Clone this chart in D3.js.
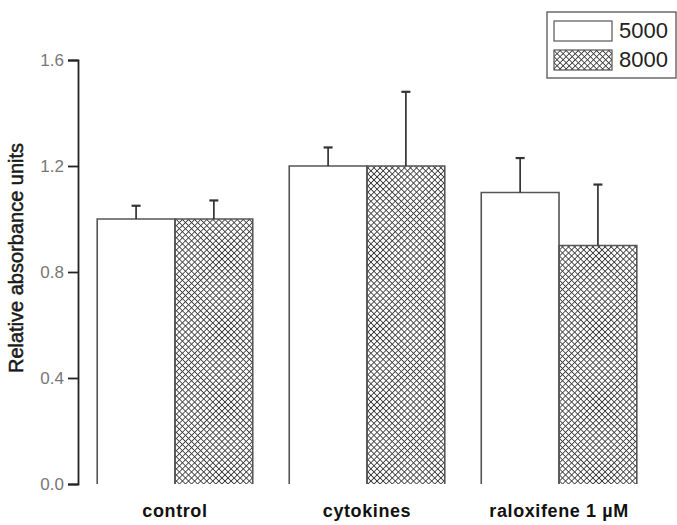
<!DOCTYPE html>
<html>
<head>
<meta charset="utf-8">
<script src="https://cdn.jsdelivr.net/npm/d3@7"></script>
<style>
  body { margin: 0; background: #fff; }
  svg { display: block; font-family: "Liberation Sans", Arial, sans-serif; }
</style>
</head>
<body>
<svg id="chart"></svg>
<script>
// data
var categories = ['control', 'cytokines', 'raloxifene 1 \u00b5M'];
var series = ['5000', '8000'];
var values5000 = [1.00, 1.20, 1.10];
var values8000 = [1.00, 1.20, 0.90];
var err5000 = [0.05, 0.07, 0.13];
var err8000 = [0.07, 0.28, 0.23];
var yTicks = [0.0, 0.4, 0.8, 1.2, 1.6];

var width = 677, height = 525;

var svg = d3.select('#chart')
  .attr('width', width)
  .attr('height', height);

// crosshatch fill
var defs = svg.append('defs');
var pat = defs.append('pattern')
  .attr('id', 'hatch')
  .attr('patternUnits', 'userSpaceOnUse')
  .attr('width', 4.3)
  .attr('height', 4.3)
  .attr('patternTransform', 'rotate(45)');
pat.append('rect').attr('width', 4.3).attr('height', 4.3).attr('fill', '#fff');
pat.append('line').attr('x1', 0).attr('y1', 0).attr('x2', 0).attr('y2', 4.3)
  .attr('stroke', '#3a3a3a').attr('stroke-width', 1.7);
pat.append('line').attr('x1', 0).attr('y1', 0).attr('x2', 4.3).attr('y2', 0)
  .attr('stroke', '#3a3a3a').attr('stroke-width', 1.7);

var fills = { '5000': '#fff', '8000': 'url(#hatch)' };

// scales
var yScale = d3.scaleLinear().domain([0, 1.6]).range([484, 60]);

var x0 = d3.scaleBand().domain(categories)
  .range([78, 656]).paddingInner(0.19).paddingOuter(0.1);

var x1 = d3.scaleBand().domain(series)
  .range([0, x0.bandwidth()]);

var rows = [];
categories.forEach(function(c, i) {
  rows.push({ cat: c, s: '5000', v: values5000[i], e: err5000[i] });
  rows.push({ cat: c, s: '8000', v: values8000[i], e: err8000[i] });
});

// y axis
var yAxis = d3.axisLeft(yScale)
  .tickValues(yTicks)
  .tickFormat(d3.format('.1f'))
  .tickSize(10)
  .tickPadding(4);

var gy = svg.append('g')
  .attr('transform', 'translate(78,0)')
  .call(yAxis);
gy.select('.domain').attr('stroke', '#222').attr('stroke-width', 1.8);
gy.selectAll('.tick line').attr('stroke', '#222').attr('stroke-width', 1.8);
gy.selectAll('.tick text')
  .attr('fill', '#777')
  .style('font-size', '17px');

svg.append('text')
  .attr('transform', 'translate(23,258) rotate(-90)')
  .attr('text-anchor', 'middle')
  .attr('fill', '#1a1a1a')
  .attr('stroke', '#1a1a1a')
  .attr('stroke-width', 0.5)
  .style('font-size', '20px')
  .text('Relative absorbance units');

// bars
var bars = svg.append('g').attr('class', 'data');

bars.selectAll('rect.bar').data(rows)
  .enter()
  .append('rect')
  .attr('class', 'bar')
  .attr('x', function(d) { return x0(d.cat) + x1(d.s); })
  .attr('y', function(d) { return yScale(d.v); })
  .attr('width', x1.bandwidth())
  .attr('height', function(d) { return yScale(0) - yScale(d.v); })
  .attr('fill', function(d) { return fills[d.s]; });

// outline on three sides only
bars.selectAll('path.outline').data(rows)
  .enter()
  .append('path')
  .attr('class', 'outline')
  .attr('fill', 'none')
  .attr('stroke', '#555')
  .attr('stroke-width', 1.6)
  .attr('d', function(d) {
    var l = x0(d.cat) + x1(d.s), r = l + x1.bandwidth();
    var t = yScale(d.v), b = yScale(0);
    return 'M' + l + ',' + b + 'V' + t + 'H' + r + 'V' + b;
  });

// error bars
var errs = svg.append('g').attr('class', 'errors')
  .attr('stroke', '#333').attr('stroke-width', 1.7);

errs.selectAll('line.stem').data(rows)
  .enter()
  .append('line')
  .attr('x1', function(d) { return x0(d.cat) + x1(d.s) + x1.bandwidth() / 2; })
  .attr('x2', function(d) { return x0(d.cat) + x1(d.s) + x1.bandwidth() / 2; })
  .attr('y1', function(d) { return yScale(d.v); })
  .attr('y2', function(d) { return yScale(d.v + d.e); });

errs.selectAll('line.cap').data(rows)
  .enter()
  .append('line')
  .attr('stroke-width', 2.2)
  .attr('x1', function(d) { return x0(d.cat) + x1(d.s) + x1.bandwidth() / 2 - 4.5; })
  .attr('x2', function(d) { return x0(d.cat) + x1(d.s) + x1.bandwidth() / 2 + 4.5; })
  .attr('y1', function(d) { return yScale(d.v + d.e); })
  .attr('y2', function(d) { return yScale(d.v + d.e); });

// category labels
svg.append('g').selectAll('text').data(categories)
  .enter()
  .append('text')
  .attr('x', function(d) { return x0(d) + x0.bandwidth() / 2; })
  .attr('y', 517)
  .attr('text-anchor', 'middle')
  .attr('fill', '#111')
  .style('font-size', '18px')
  .style('letter-spacing', '0.6px')
  .style('font-weight', 'bold')
  .text(function(d) { return d; });

// legend
var legend = svg.append('g').attr('class', 'legend');
legend.append('rect')
  .attr('x', 547).attr('y', 12)
  .attr('width', 129).attr('height', 66)
  .attr('fill', '#fff')
  .attr('stroke', '#555').attr('stroke-width', 1.3);

var items = legend.selectAll('g.item').data(series)
  .enter()
  .append('g')
  .attr('transform', function(d, i) { return 'translate(554,' + (21 + i * 29) + ')'; });

items.append('rect')
  .attr('width', 58).attr('height', 20)
  .attr('fill', function(d) { return fills[d]; })
  .attr('stroke', '#555').attr('stroke-width', 1.2);

items.append('text')
  .attr('x', 65).attr('y', 17)
  .attr('fill', '#222')
  .style('font-size', '22px')
  .text(function(d) { return d; });
</script>
</body>
</html>
